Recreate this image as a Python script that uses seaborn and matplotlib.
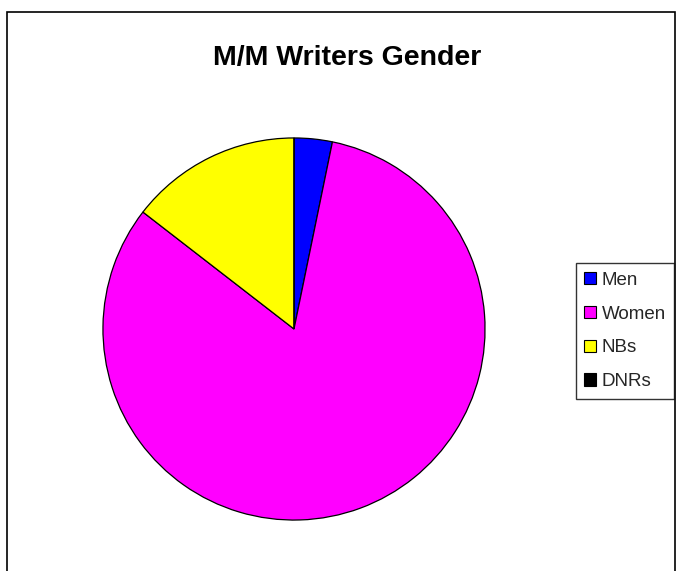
import matplotlib
matplotlib.use("Agg")
import matplotlib.pyplot as plt
from matplotlib.patches import Patch, Rectangle
import seaborn as sns

categories = ["Men", "Women", "NBs", "DNRs"]
counts = [2, 51, 9, 0]
colors = ["#0000FF", "#FF00FF", "#FFFF00", "#000000"]
title = "M/M Writers Gender"

sns.set_theme(style="white")
plt.rcParams["font.family"] = ["Liberation Sans", "DejaVu Sans"]

W, H = 683, 571
fig = plt.figure(figsize=(W / 100, H / 100), dpi=100)
fig.patch.set_facecolor("white")

# outer frame
fig.add_artist(Rectangle((7 / W, -0.05), (675 - 7) / W, 1.05 - 12 / H,
                         transform=fig.transFigure, fill=False,
                         edgecolor="black", linewidth=1.2))

ax = fig.add_axes([102 / W, 50 / H, 384 / W, 384 / H])
ax.pie(counts, colors=colors, startangle=90,
       counterclock=False, radius=1.0,
       wedgeprops=dict(edgecolor="black", linewidth=0.9))
ax.set_xlim(-1.005, 1.005)
ax.set_ylim(-1.005, 1.005)
ax.set_aspect("equal")
ax.axis("off")

fig.text(347 / W, 1 - 58 / H, title, ha="center", va="center",
         fontsize=20.5, fontweight="bold", color="black")

handles = [Patch(facecolor=c, edgecolor="black", linewidth=0.8) for c in colors]
leg = fig.legend(handles, categories, loc="center",
                 bbox_to_anchor=(625 / W, 1 - 331 / H),
                 frameon=True, fancybox=False, fontsize=13.5,
                 handlelength=0.65, handleheight=0.65, handletextpad=0.3,
                 labelspacing=0.9, borderpad=0.45, borderaxespad=0)
leg.get_frame().set_edgecolor("black")
leg.get_frame().set_linewidth(1.0)
leg.get_frame().set_facecolor("white")

fig.savefig("out.png", dpi=100, facecolor="white")
